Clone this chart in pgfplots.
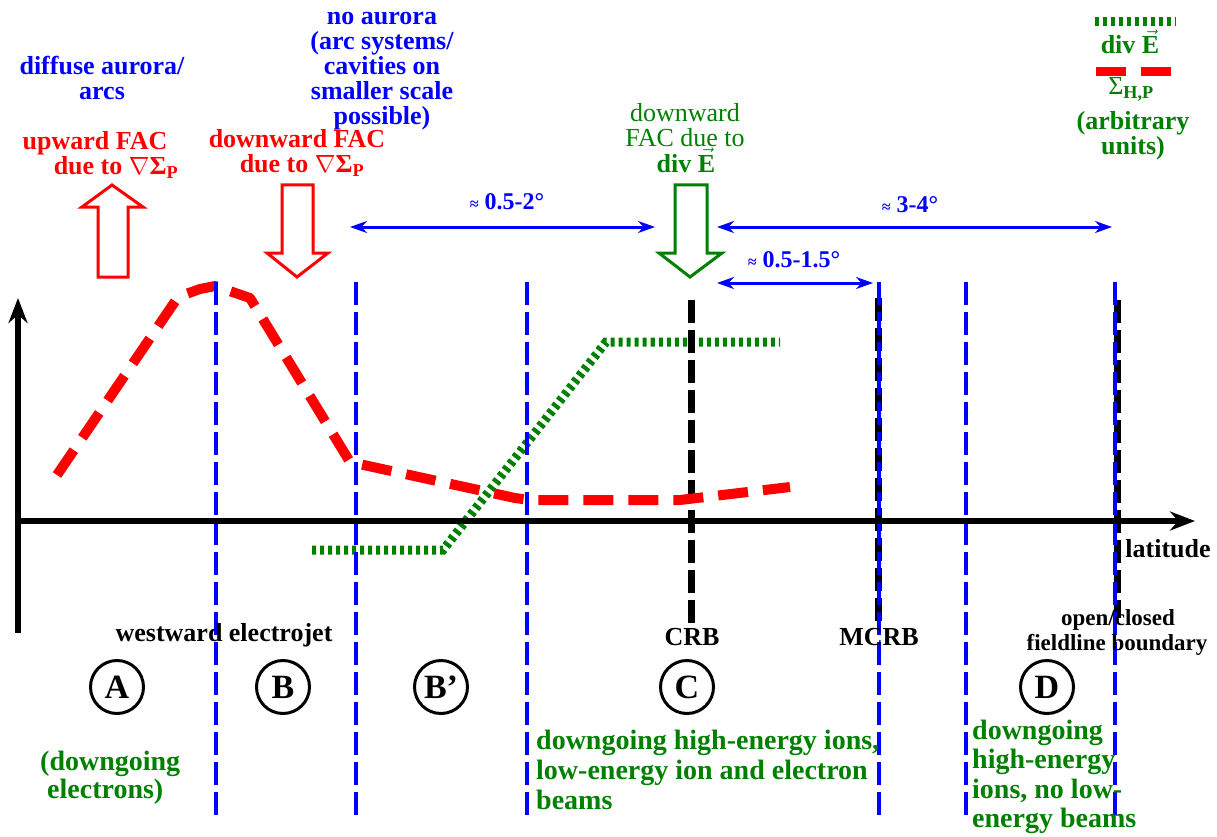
\documentclass[border=0pt]{standalone}
\usepackage{fontspec}
\setmainfont{Liberation Serif}
\usepackage{pgfplots}
\pgfplotsset{compat=1.18}
\usetikzlibrary{arrows.meta}
\definecolor{fgreen}{RGB}{0,128,0}
\definecolor{fblue}{RGB}{0,0,255}
\definecolor{fred}{RGB}{255,0,0}
\newcommand{\fs}[2]{\fontsize{#1}{#2}\selectfont}
\newcommand{\ngs}{$\nabla$Σ\textsubscript{P}}
\newcommand{\vecE}{\smash{$\vec{\mbox{E}}$}}

\pgfplotsset{
  bdash/.style={fblue, line width=4pt, dash pattern=on 23pt off 7pt},
  kdash/.style={black, line width=7pt, dash pattern=on 23pt off 7pt},
  rdash/.style={fred, line width=10pt, dash pattern=on 30pt off 15pt},
  gdot/.style={fgreen, line width=9pt, dash pattern=on 4pt off 4pt},
  hollow/.style={line width=3pt, line join=miter},
  span/.style={fblue, line width=3pt, arrows={Stealth[length=17pt,width=12pt]-Stealth[length=17pt,width=12pt]}},
}

\begin{document}
\begin{tikzpicture}
\begin{axis}[
  width=1217pt, height=837pt, scale only axis,
  xmin=0, xmax=1217, ymin=0, ymax=837, y dir=reverse,
  hide axis, clip=false, no markers,
]
\coordinate (SW) at (axis cs:0,837);
\coordinate (NE) at (axis cs:1217,0);

% div E (green, dotted)
\addplot[gdot] coordinates {(312,550) (443,550) (606,342) (780,342)};

% boundaries CRB, MCRB, open/closed
\addplot[kdash] coordinates {(691,300) (691,628)};
\addplot[kdash] coordinates {(878,298) (878,628)};
\addplot[kdash] coordinates {(1117,300) (1117,618)};

% Sigma_H,P (red, dashed)
\addplot[rdash, line join=round] coordinates {(57,475) (176,300) (186,294) (200,289) (215,286) (250,298)
  (350,462) (515,498) (530,500) (680,500) (790,487)};

% region borders
\addplot[bdash] coordinates {(216,282) (216,820)};
\addplot[bdash] coordinates {(356,282) (356,820)};
\addplot[bdash] coordinates {(527,282) (527,820)};
\addplot[bdash] coordinates {(879,282) (879,820)};
\addplot[bdash] coordinates {(966,282) (966,820)};
\addplot[bdash] coordinates {(1115,282) (1115,820)};

% axes
\addplot[black, line width=6.5pt, arrows={-Stealth[length=25pt,width=19pt]}]
  coordinates {(15,521) (1195,521)};
\addplot[black, line width=6.5pt, arrows={-Stealth[length=25pt,width=19pt]}]
  coordinates {(18,633) (18,298)};

% FAC arrows
\addplot[fred, hollow] coordinates {(113,277) (98,277) (98,207) (82,207) (112,185)
  (143,207) (128,207) (128,277) (113,277)};
\addplot[fred, hollow] coordinates {(297,185) (313,185) (313,253) (328,253) (297,277)
  (267,253) (282,253) (282,185) (297,185)};
\addplot[fgreen, hollow] coordinates {(691,185) (707,185) (707,253) (722,253) (690,277)
  (659,253) (675,253) (675,185) (691,185)};

% widths
\addplot[span] coordinates {(350,227) (655,227)};
\addplot[span] coordinates {(717,227) (1112,227)};
\addplot[span] coordinates {(717,283) (873,283)};

% legend
\addplot[gdot] coordinates {(1095,22) (1176,22)};
\addplot[fred, line width=9pt, dash pattern=on 30pt off 15pt] coordinates {(1096,72) (1171,72)};

% texts
\begin{scope}[every node/.style={anchor=base, inner sep=0pt, align=center}]
\node[fblue, font=\bfseries\fs{26}{25}] at (axis cs:102,75) {diffuse aurora/};
\node[fblue, font=\bfseries\fs{26}{25}] at (axis cs:102,100) {arcs};
\node[fblue, font=\bfseries\fs{26}{25}] at (axis cs:382,25) {no aurora};
\node[fblue, font=\bfseries\fs{26}{25}] at (axis cs:382,50) {(arc systems/};
\node[fblue, font=\bfseries\fs{26}{25}] at (axis cs:382,75) {cavities on};
\node[fblue, font=\bfseries\fs{26}{25}] at (axis cs:382,100) {smaller scale};
\node[fblue, font=\bfseries\fs{26}{25}] at (axis cs:382,125) {possible)};

\node[fred, font=\bfseries\fs{26}{25}] at (axis cs:95,150) {upward FAC};
\node[fred, font=\bfseries\fs{26}{25}] at (axis cs:116,175) {due to \ngs};
\node[fred, font=\bfseries\fs{26}{25}] at (axis cs:297,148) {downward FAC};
\node[fred, font=\bfseries\fs{26}{25}] at (axis cs:302,173) {due to \ngs};

\node[fgreen, font=\fs{26}{25}] at (axis cs:685,122) {downward};
\node[fgreen, font=\fs{26}{25}] at (axis cs:685,147) {FAC due to};
\node[fgreen, font=\bfseries\fs{26}{25}] at (axis cs:686,172) {div \vecE};

\node[fblue, font=\bfseries\fs{24}{24}] at (axis cs:507,209) {{\fs{16}{16}≈} 0.5-2°};
\node[fblue, font=\bfseries\fs{24}{24}] at (axis cs:910,212) {{\fs{16}{16}≈} 3-4°};
\node[fblue, font=\bfseries\fs{24}{24}] at (axis cs:794,267) {{\fs{16}{16}≈} 0.5-1.5°};

\node[fgreen, font=\bfseries\fs{26}{25}] at (axis cs:1130,54) {div \vecE};
\node[fgreen, font=\bfseries\fs{26}{25}] at (axis cs:1131,95) {{\mdseries Σ}\textsubscript{H,P}};
\node[fgreen, font=\bfseries\fs{26}{25}] at (axis cs:1133,130) {(arbitrary};
\node[fgreen, font=\bfseries\fs{26}{25}] at (axis cs:1133,155) {units)};

\node[font=\bfseries\fs{26}{25}] at (axis cs:1168,557) {latitude};
\node[font=\bfseries\fs{26}{25}] at (axis cs:224,641) {westward electrojet};
\node[font=\bfseries\fs{26}{25}] at (axis cs:692,645) {CRB};
\node[font=\bfseries\fs{26}{25}] at (axis cs:879,645) {MCRB};
\node[font=\bfseries\fs{23}{23}] at (axis cs:1118,625) {open/closed};
\node[font=\bfseries\fs{23}{23}] at (axis cs:1117,650) {fieldline boundary};
\end{scope}

\begin{scope}[every node/.style={circle, draw, line width=3pt, minimum size=53pt,
    inner sep=0pt, font=\bfseries\fs{34}{34}}]
\node at (axis cs:117,687) {A};
\node at (axis cs:283,687) {B};
\node at (axis cs:441,687) {B’};
\node at (axis cs:687,687) {C};
\node at (axis cs:1047,687) {D};
\end{scope}

\begin{scope}[every node/.style={anchor=base west, inner sep=0pt, fgreen,
    font=\bfseries\fs{28}{28}}]
\node at (axis cs:40,770) {(downgoing};
\node at (axis cs:47,798) {electrons)};
\node at (axis cs:536,749) {downgoing high-energy ions,};
\node at (axis cs:536,779) {low-energy ion and electron};
\node at (axis cs:536,809) {beams};
\node at (axis cs:972,739) {downgoing};
\node at (axis cs:972,768) {high-energy};
\node at (axis cs:972,798) {ions, no low-};
\node at (axis cs:972,827) {energy beams};
\end{scope}
\end{axis}
\pgfresetboundingbox
\useasboundingbox (SW) rectangle (NE);
\end{tikzpicture}
\end{document}
